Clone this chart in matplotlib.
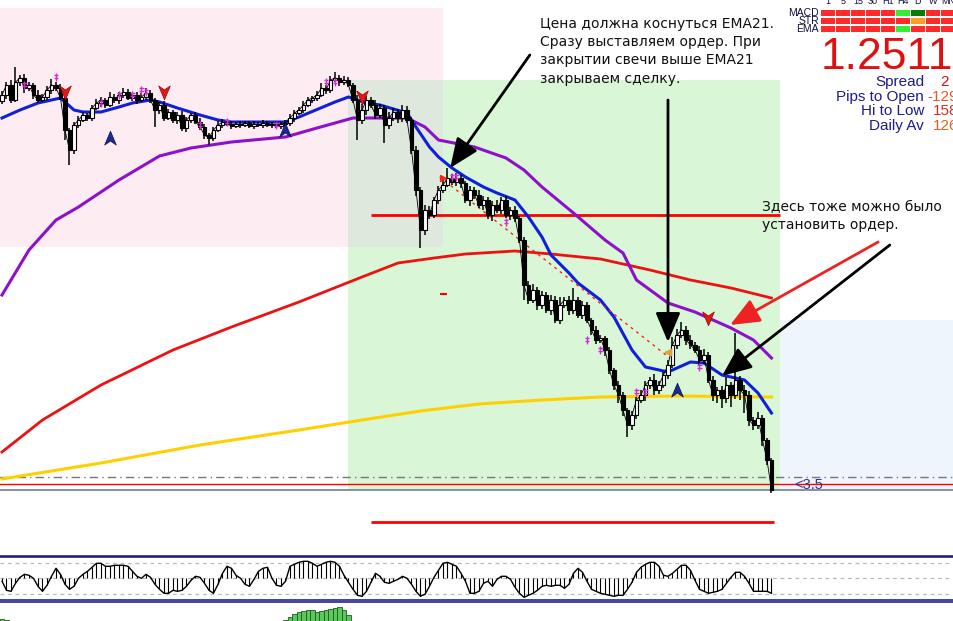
import numpy as np
import matplotlib.pyplot as plt
from matplotlib.patches import Rectangle
from matplotlib.path import Path

# --- price data, in points (1 point = 0.0001) ---
first_open = 12900
close_pts = [
    12906, 12916, 12901, 12919, 12923, 12913, 12916, 12906, 12901, 12904,
    12911, 12916, 12913, 12903, 12871, 12851, 12876, 12881, 12886, 12883,
    12893, 12898, 12901, 12896, 12904, 12901, 12906, 12909, 12903, 12906,
    12901, 12904, 12908, 12901, 12891, 12896, 12883, 12889, 12881, 12886,
    12873, 12881, 12886, 12879, 12874, 12866, 12863, 12871, 12876, 12879,
    12877, 12875, 12877, 12876, 12878, 12875, 12877, 12876, 12878, 12876,
    12877, 12875, 12877, 12878, 12883, 12888, 12891, 12896, 12901, 12903,
    12906, 12913, 12911, 12921, 12923, 12919, 12921, 12916, 12901, 12881,
    12891, 12901, 12896, 12886, 12893, 12876, 12883, 12889, 12883, 12891,
    12881, 12851, 12811, 12771, 12791, 12786, 12801, 12811, 12816, 12823,
    12819, 12823, 12818, 12801, 12811, 12806, 12796, 12801, 12786, 12796,
    12791, 12801, 12786, 12791, 12783, 12761, 12716, 12701, 12711, 12696,
    12706, 12691, 12701, 12681, 12696, 12701, 12691, 12701, 12686, 12696,
    12681, 12671, 12661, 12663, 12651, 12631, 12616, 12606, 12591, 12576,
    12586, 12601, 12606, 12616, 12621, 12611, 12616, 12626, 12636, 12656,
    12666, 12671, 12661, 12656, 12651, 12641, 12646, 12621, 12606, 12611,
    12603, 12616, 12606, 12621, 12611, 12606, 12581, 12576, 12583, 12561,
    12541, 12511,
]
wick_up = [
    4, 3, 5, 15, 3, 4, 3, 2, 5, 3, 4, 6, 3, 4, 3, 2, 3, 4, 3, 2,
    3, 4, 3, 2, 5, 3, 3, 4, 3, 2, 3, 4, 5, 3, 2, 3, 4, 3, 2, 3,
    4, 3, 2, 3, 4, 3, 2, 3, 4, 3, 2, 3, 2, 3, 2, 2, 3, 2, 3, 2,
    2, 3, 2, 3, 4, 3, 3, 4, 3, 2, 4, 5, 3, 4, 6, 3, 4, 3, 2, 5,
    6, 4, 3, 5, 4, 3, 6, 4, 3, 5, 4, 3, 4, 3, 5, 4, 3, 4, 6, 10,
    4, 5, 3, 2, 4, 3, 5, 4, 3, 4, 5, 3, 4, 3, 4, 2, 3, 4, 6, 3,
    4, 3, 5, 4, 8, 3, 4, 12, 3, 4, 3, 2, 4, 3, 2, 3, 2, 4, 3, 2,
    4, 3, 5, 4, 3, 6, 4, 3, 5, 8, 6, 8, 4, 5, 3, 4, 6, 3, 4, 3,
    4, 8, 3, 47, 4, 5, 4, 3, 6, 3, 2, 2,
]
wick_dn = [
    3, 4, 3, 2, 4, 5, 3, 4, 3, 2, 3, 4, 3, 2, 10, 15, 4, 3, 2, 3,
    3, 2, 4, 3, 2, 3, 4, 3, 2, 3, 4, 2, 3, 3, 17, 4, 3, 2, 3, 4,
    3, 4, 3, 2, 3, 4, 7, 3, 2, 3, 2, 3, 2, 3, 2, 2, 3, 2, 3, 2,
    3, 2, 3, 2, 3, 4, 2, 3, 2, 3, 3, 2, 4, 3, 2, 4, 3, 2, 3, 20,
    4, 5, 3, 4, 3, 18, 4, 3, 5, 4, 3, 4, 6, 18, 5, 4, 3, 4, 3, 2,
    3, 4, 5, 3, 6, 4, 3, 5, 4, 6, 3, 4, 3, 5, 4, 3, 15, 4, 3, 5,
    4, 3, 5, 3, 4, 3, 5, 4, 3, 4, 3, 5, 4, 3, 6, 4, 5, 8, 6, 12,
    5, 4, 3, 6, 4, 5, 4, 3, 4, 3, 4, 3, 5, 4, 3, 5, 4, 3, 6, 8,
    10, 5, 12, 4, 10, 18, 6, 5, 4, 6, 5, 3,
]

# moving averages (bar index, points)
ema21_idx = [0, 4, 8, 13, 16, 18, 22, 26, 29, 33, 35, 39, 44, 48, 51, 63, 66, 74, 77,
             81, 84, 90, 92, 95, 97, 100, 103, 107, 110, 114, 117, 120, 122, 126, 128,
             133, 136, 140, 143, 148, 153, 156, 160, 165, 168, 171]
ema21_pts = [12883, 12891, 12898, 12903, 12891, 12889, 12889, 12894, 12898, 12901, 12899,
             12893, 12886, 12881, 12879, 12879, 12884, 12899, 12904, 12898, 12896, 12888,
             12874, 12854, 12844, 12833, 12824, 12814, 12808, 12801, 12784, 12764, 12746,
             12728, 12718, 12701, 12684, 12651, 12634, 12629, 12639, 12638, 12626, 12621,
             12608, 12588]
ema55_idx = [0, 6, 12, 17, 26, 35, 42, 51, 63, 70, 78, 82, 90, 94, 97, 105, 112, 116,
             120, 127, 134, 138, 141, 148, 154, 162, 167, 171]
ema55_pts = [12706, 12751, 12781, 12794, 12821, 12845, 12853, 12859, 12864, 12873, 12883,
             12883, 12883, 12874, 12861, 12854, 12843, 12831, 12814, 12788, 12761, 12748,
             12721, 12698, 12689, 12673, 12661, 12643]
ema200_idx = [0, 9, 22, 38, 51, 66, 80, 88, 96, 103, 114, 122, 133, 144, 153, 162, 171]
ema200_pts = [12549, 12581, 12616, 12651, 12674, 12699, 12724, 12738, 12743, 12747, 12750,
              12747, 12742, 12731, 12721, 12713, 12703]
ema365_idx = [0, 22, 44, 66, 80, 93, 106, 120, 133, 151, 171]
ema365_pts = [12522, 12538, 12556, 12571, 12581, 12590, 12597, 12601, 12604, 12605, 12604]

trend_idx = [97.3, 148.4]
trend_pts = [12824, 12643]

# levels: (price points, from bar, to bar, colour, width, style)
levels = [
    (12786, 82, 173, '#ff0000', 2.0, '-'),
    (12479, 82, 171.5, '#ff0000', 2.0, '-'),
    (12707, 97.3, 98.9, '#ff0000', 1.5, '-'),
    (12524, -1, 212, '#777777', 1.0, (0, (6, 3, 1, 3))),
    (12517, -1, 212, '#ff0000', 1.0, '-'),
    (12511, -1, 212, '#708090', 1.2, '-'),
]

# shaded zones: (bar from, bar to, points low, points high, colour)
zones = [
    (-1, 98.1, 12754, 12993, '#fdedf3'),
    (76.9, 172.9, 12511, 12921, '#d9f7d7'),
    (76.9, 98.1, 12754, 12921, '#dfe8dc'),
    (172.9, 212, 12511, 12681, '#eef5fd'),
]

sell_idx = [14, 36, 80, 157]
sell_pts = [12909, 12909, 12904, 12683]
buy_idx = [24, 63, 150]
buy_pts = [12863, 12871, 12611]
mark_idx = [5, 12, 22, 26, 29, 31, 32, 44, 50, 61, 72, 74, 100, 101, 112, 130, 133, 141, 143, 155]
mark_pts = [12916, 12924, 12898, 12906, 12906, 12911, 12909, 12876, 12879, 12876, 12919,
            12919, 12824, 12824, 12779, 12661, 12651, 12609, 12609, 12634]

osc = [
    -3, -12, -13, -5, 1, 4, 3, 0, -8, -13, -7, 2, 10, 4, -6, -11, -8, 0, 4, 7,
    11, 15, 15, 12, 12, 13, 13, 13, 12, 7, 2, 0, 4, 1, -6, -11, -15, -15, -12, -13,
    -12, -8, -2, 2, 1, -5, -12, -15, -6, 5, 12, 10, 3, 0, -6, -8, -1, 7, 10, 11,
    0, -7, -8, -3, 12, 14, 16, 17, 17, 15, 12, 14, 16, 17, 16, 12, 3, -4, -11, -17,
    -18, -13, -4, 5, 2, -4, -5, -3, -1, 2, 0, -6, -13, -18, -16, -8, 1, 8, 15, 16,
    14, 12, 5, -3, -15, -15, -13, -5, -3, -8, -1, 2, 2, -1, -9, -15, -19, -17, -15, -12,
    -8, -7, -8, -7, -7, -10, -6, 5, 10, 6, -3, -11, -13, -15, -16, -17, -18, -17, -17, -11,
    -4, 6, 11, 14, 16, 16, 12, 3, 2, 5, 9, 13, 13, 8, -2, -11, -13, -15, -14, -13,
    -11, -5, 1, 6, 6, 2, -5, -13, -13, -13, -13, -15,
]
hist_idx = [0, 1, 2, 3, 63, 64, 65, 66, 67, 68, 69, 70, 71, 72, 73, 74, 75, 76, 77]
hist_vals = [6, 5, 4, 3, 5, 8, 11, 13, 14, 15, 15, 13, 14, 15, 16, 17, 18, 15, 10]

timeframes = ['1', '5', '15', '30', 'H1', 'H4', 'D', 'W', 'MN']
signal_rows = ['MACD', 'STR', 'EMA']
signals = [
    ['r', 'r', 'r', 'r', 'r', 'g', 'G', 'r', 'r'],
    ['r', 'r', 'r', 'r', 'r', 'r', 'o', 'r', 'r'],
    ['r', 'r', 'r', 'r', 'r', 'g', 'r', 'r', 'r'],
]
signal_colors = {'r': '#ff2a2a', 'g': '#33ee33', 'G': '#0a7a0a', 'o': '#ffa020'}

price_now = '1.2511'
info_labels = ['Spread', 'Pips to Open', 'Hi to Low', 'Daily Av']
info_values = ['2', '-129', '158', '126']
info_colors = ['#e01010', '#ee5522', '#d03020', '#e0601e']

note1 = ('Цена должна коснуться EMA21.\nСразу выставляем ордер. При\n'
         'закрытии свечи выше EMA21\nзакрываем сделку.')
note2 = 'Здесь тоже можно было\nустановить ордер.'

# --- derived OHLC ---
close = np.array(close_pts) / 1e4
opn = np.array([first_open] + close_pts[:-1]) / 1e4
hi = np.maximum(opn, close) + np.array(wick_up) / 1e4
lo = np.minimum(opn, close) - np.array(wick_dn) / 1e4
x = np.arange(len(close))

W, H = 954, 621
fig = plt.figure(figsize=(W / 100, H / 100), dpi=100)
fig.patch.set_facecolor('white')
XL = (-0.444, 211.56)

ax = fig.add_axes([0, 73 / H, 1, 548 / H])
ax.set_xlim(*XL)
ax.set_ylim(1.2453, 1.3001)
ax.axis('off')

for x0, x1, p0, p1, c in zones:
    ax.add_patch(Rectangle((x0, p0 / 1e4), x1 - x0, (p1 - p0) / 1e4, color=c, lw=0, zorder=0))

for p, x0, x1, c, lw, ls in levels:
    ax.hlines(p / 1e4, x0, x1, colors=c, lw=lw, linestyles=ls, zorder=2)

ax.plot(ema365_idx, np.array(ema365_pts) / 1e4, color='#ffd000', lw=2.2, zorder=3)
ax.plot(ema200_idx, np.array(ema200_pts) / 1e4, color='#ee1111', lw=2.0, zorder=3)
ax.plot(ema55_idx, np.array(ema55_pts) / 1e4, color='#8e10c8', lw=2.2, zorder=3)
ax.plot(ema21_idx, np.array(ema21_pts) / 1e4, color='#1020d8', lw=2.2, zorder=3)
ax.plot(trend_idx, np.array(trend_pts) / 1e4, color='#ff2020', lw=1.0,
        ls=(0, (2, 3)), zorder=3)

# candles
ax.vlines(x, lo, hi, color='black', lw=1.1, zorder=4)
bull = close >= opn
body_lo = np.minimum(opn, close)
body_h = np.maximum(np.abs(close - opn), 0.00008)
ax.bar(x, body_h, bottom=body_lo, width=0.72,
       color=np.where(bull, 'white', 'black'), edgecolor='black', lw=0.8, zorder=5)
ax.plot(x, close, color='black', lw=0.6, zorder=4)

# signal arrows
dart_dn = Path([(0, -1), (0.8, 0.9), (0, 0.35), (-0.8, 0.9), (0, -1)],
               [Path.MOVETO, Path.LINETO, Path.LINETO, Path.LINETO, Path.CLOSEPOLY])
dart_up = Path([(0, 1), (0.8, -0.9), (0, -0.35), (-0.8, -0.9), (0, 1)],
               [Path.MOVETO, Path.LINETO, Path.LINETO, Path.LINETO, Path.CLOSEPOLY])
ax.scatter(sell_idx, np.array(sell_pts) / 1e4, marker=dart_dn, s=110, color='#e01818',
           edgecolors='#a00000', lw=0.5, zorder=6)
ax.scatter(buy_idx, np.array(buy_pts) / 1e4, marker=dart_up, s=110, color='#1a2a90',
           edgecolors='#0a0a50', lw=0.5, zorder=6)
ddag = Path([(0, -1), (0, 1), (-0.5, 0.35), (0.5, 0.35), (-0.5, -0.2), (0.5, -0.2)],
            [Path.MOVETO, Path.LINETO, Path.MOVETO, Path.LINETO, Path.MOVETO, Path.LINETO])
ax.scatter(mark_idx, np.array(mark_pts) / 1e4, marker=ddag, s=40, facecolors='none',
           edgecolors='#d030d0', lw=1.0, zorder=6)
ax.scatter([98], [1.2823], marker='>', s=18, color='#ff2020', zorder=6)
ax.scatter([148], [1.2649], marker='<', s=22, color='#e0a040', zorder=6)

ax.text(176, 1.2516, '<3.5', color='#33338a', fontsize=10.5, family='Liberation Sans',
        va='center', ha='left', zorder=7)

# annotation arrows (tail, head) in bar/price
arrows = [
    ((117.3, 1.2946), (99.6, 1.2833), 'black'),
    ((148.0, 1.2901), (148.0, 1.2659), 'black'),
    ((194.7, 1.2759), (161.8, 1.2676), '#ee2222'),
    ((197.3, 1.2756), (160.0, 1.2625), 'black'),
]
for tail, head, c in arrows:
    ax.annotate('', xy=head, xytext=tail, annotation_clip=False, zorder=8,
                arrowprops=dict(arrowstyle='-|>,head_length=0.9,head_width=0.38',
                                mutation_scale=20, lw=2.0, color=c,
                                shrinkA=0, shrinkB=0))

fig.text(540 / W, 1 - 17 / H, note1, fontsize=10, family='DejaVu Sans', color='#111111',
         va='top', ha='left', linespacing=1.38)
fig.text(762 / W, 1 - 200 / H, note2, fontsize=10, family='DejaVu Sans', color='#111111',
         va='top', ha='left', linespacing=1.38)

# --- oscillator window ---
ax2 = fig.add_axes([0, 18 / H, 1, 50 / H])
ax2.set_xlim(*XL)
ax2.set_ylim(-24.7, 25.3)
ax2.axis('off')
for lvl in (15, 0, -15.7):
    ax2.axhline(lvl, color='#b8b8b8', lw=0.9, ls=(0, (3, 3)))
for lvl in (22.6, 21.2, -22.0, -23.5):
    ax2.axhline(lvl, color='#101088', lw=1.1)
ax2.vlines(x, 0, osc, color='black', lw=0.8)
ax2.plot(x, osc, color='black', lw=1.0)

# --- lower window (cut off) ---
ax3 = fig.add_axes([0, 0, 1, 17 / H])
ax3.set_xlim(*XL)
ax3.set_ylim(4, 21)
ax3.axis('off')
ax3.bar(hist_idx, hist_vals, width=1.0, color='#5cc85c', edgecolor='#1a601a', lw=0.6)

# --- signal table top right ---
axt = fig.add_axes([820.5 / W, 1 - 34 / H, 135 / W, 34 / H])
axt.set_xlim(0, 9)
axt.set_ylim(2.585, -1.56)
axt.axis('off')
for r, row in enumerate(signals):
    for c, s in enumerate(row):
        axt.add_patch(Rectangle((c + 0.06, r - 0.34), 0.88, 0.68, color=signal_colors[s], lw=0))
for c, tf in enumerate(timeframes):
    axt.text(c + 0.5, -0.85, tf, fontsize=6.5, family='Liberation Sans', color='#101040',
             ha='center', va='bottom', clip_on=False)
for r, name in enumerate(signal_rows):
    fig.text(819 / W, 1 - (12.8 + 8.2 * r) / H, name, fontsize=7.5, family='Liberation Sans',
             color='#101040', ha='right', va='center')

fig.text(821 / W, 1 - 69 / H, price_now, fontsize=32, family='Liberation Sans',
         color='#e01010', ha='left', va='baseline')
value_right = [949, 958, 958, 958]
for k, (lab, val, vc) in enumerate(zip(info_labels, info_values, info_colors)):
    yb = 1 - (86 + 14.7 * k) / H
    fig.text(924 / W, yb, lab, fontsize=11, family='Liberation Sans', color='#1c1c8c',
             ha='right', va='baseline')
    fig.text(value_right[k] / W, yb, val, fontsize=11, family='Liberation Sans', color=vc,
             ha='right', va='baseline')

fig.savefig('out.png', dpi=100)
